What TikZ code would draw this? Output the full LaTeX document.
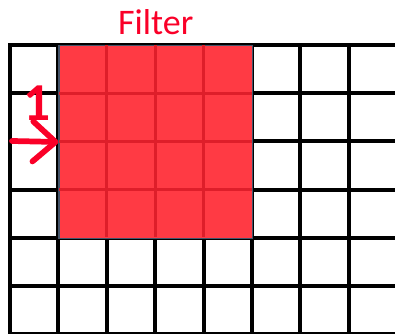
\documentclass[tikz,border=0pt]{standalone}
\usepackage{fontspec}
\setmainfont{Carlito}
\usetikzlibrary{arrows.meta,positioning}
\definecolor{filterred}{RGB}{255,58,68}
\definecolor{filterline}{RGB}{222,30,42}
\definecolor{filteredge}{RGB}{68,84,106}
\definecolor{labelred}{RGB}{250,0,40}

\begin{document}
\begin{tikzpicture}[
    x=0.75pt, y=-0.75pt,
    gridline/.style={draw=black, line width=3pt, line cap=rect},
    filterbox/.style={draw=filteredge, line width=0.9pt, fill=filterred, inner sep=0pt, minimum width=145.2pt, minimum height=144.6pt},
    label/.style={text=labelred, inner sep=0pt},
    link/.style={-{Straight Barb[length=17pt, width=30pt, round]}, draw=labelred, line width=4.3pt, line cap=round}
]
\useasboundingbox (0,0) rectangle (395,334);
\begin{scope}
\clip (0,0) rectangle (395,334);
% input grid
\foreach \i in {0,...,8}
    \draw[gridline] (10+48.4*\i,45) -- (10+48.4*\i,340);
\foreach \j in {0,...,6}
    \draw[gridline] (10,45+48.2*\j) -- (400,45+48.2*\j);
\end{scope}
% filter window
\node[filterbox, anchor=north west] (filter) at (58.4,45) {};
\foreach \k in {1,2,3}
{
    \draw[filterline, line width=2.2pt] (58.4+48.4*\k,45.5) -- (58.4+48.4*\k,237.3);
    \draw[filterline, line width=2.2pt] (58.9,45+48.2*\k) -- (251.5,45+48.2*\k);
}
\node[label, font=\fontsize{27}{27}\selectfont, above=7.5pt of filter] (title) {Filter};
\node[label, font=\fontsize{40}{40}\selectfont\bfseries] (stride) at (37.5,103.5) {1};
\coordinate (start) at (12,141);
\draw[link] (start) -- (filter.west);
\end{tikzpicture}
\end{document}
